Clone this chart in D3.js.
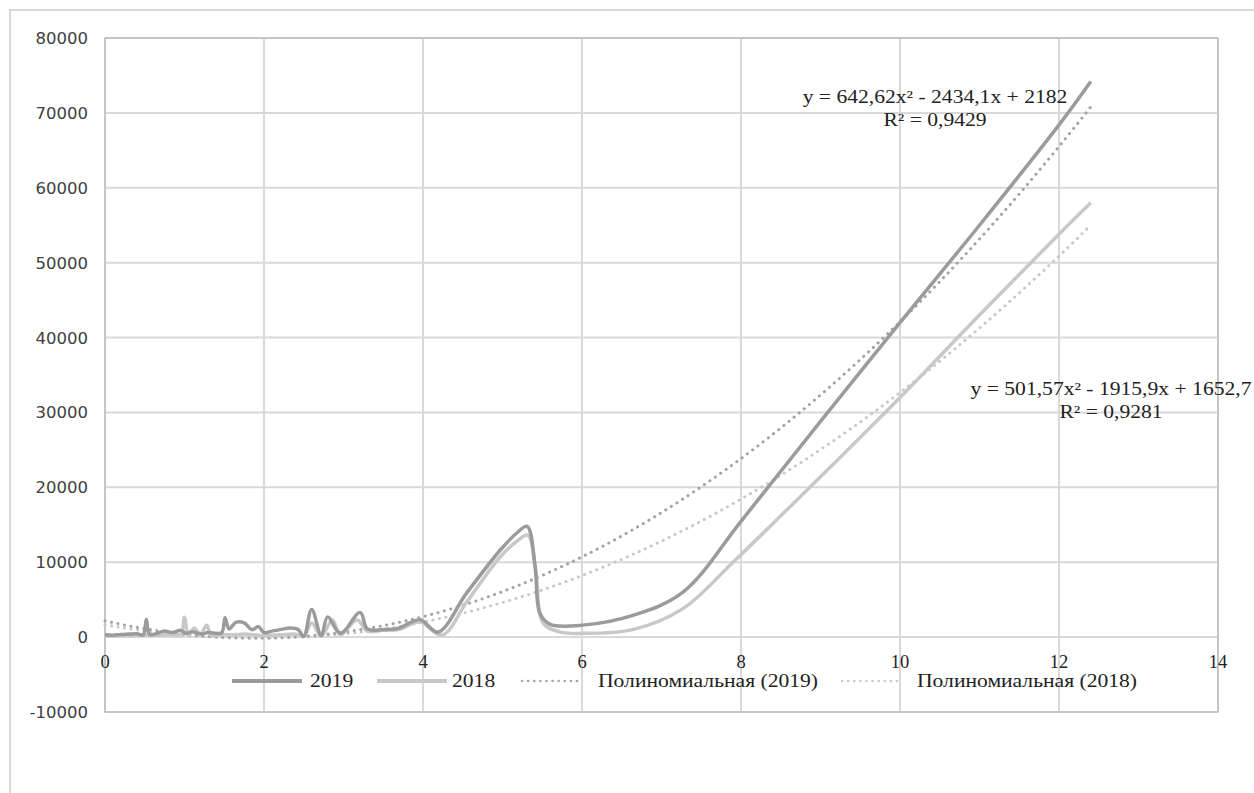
<!DOCTYPE html>
<html><head><meta charset="utf-8">
<script src="https://cdn.jsdelivr.net/npm/d3@7/dist/d3.min.js"></script>
<style>html,body{margin:0;padding:0;background:#fff;}svg{display:block;}</style>
</head><body>
<svg id="c" width="1254" height="793"></svg>
<script>
// ---- data ----
const x2019 = [0,0.1,0.2,0.3,0.4,0.48,0.52,0.56,0.65,0.75,0.85,0.95,1.02,1.1,1.2,1.3,1.4,1.47,1.51,1.56,1.65,1.75,1.85,1.93,2.0,2.1,2.2,2.33,2.43,2.5,2.6,2.72,2.8,2.96,3.21,3.3,3.5,3.7,3.85,3.97,4.19,4.55,4.97,5.18,5.31,5.41,5.47,5.6,6.01,6.64,7.27,8.01,9,10,11,12,12.4];
const v2019 = [300,250,350,400,450,300,2400,350,500,800,600,900,500,700,400,600,500,600,2600,1100,2000,1900,1000,1400,600,800,1000,1200,1000,100,3700,200,2700,500,3300,1100,1000,1200,2000,2300,670,5900,11600,13900,14800,9500,3200,1700,1600,2900,6000,15600,28800,42000,55000,68400,74200];
const x2018 = [0,0.1,0.2,0.3,0.4,0.5,0.6,0.7,0.8,0.9,0.96,1.0,1.05,1.12,1.2,1.28,1.33,1.4,1.5,1.6,1.75,1.9,2.0,2.2,2.4,2.5,2.6,2.72,2.86,2.96,3.17,3.3,3.5,3.7,3.85,3.97,4.24,4.55,4.97,5.18,5.32,5.42,5.51,5.72,6.01,6.64,7.27,7.9,8.53,9,10,11,12,12.4];
const v2018 = [200,150,250,200,300,250,300,250,350,300,400,2650,300,1200,400,1600,300,250,350,300,400,300,200,300,400,100,1900,150,2300,300,2300,800,900,1000,1700,2000,270,4700,10700,12800,13600,8500,1900,700,500,1000,3800,10000,16500,21400,32000,43000,53800,58000];
const seriesNames = ["2019","2018"];
const trendNames = ["Полиномиальная (2019)","Полиномиальная (2018)"];
const trendCoef2019 = [2182, -2434.1, 642.62];
const trendCoef2018 = [1652.7, -1915.9, 501.57];
const eqLabels = [["y = 642,62x² - 2434,1x + 2182","R² = 0,9429"],["y = 501,57x² - 1915,9x + 1652,7","R² = 0,9281"]];
const xTicks = [0,2,4,6,8,10,12,14];
const yTicks = [-10000,0,10000,20000,30000,40000,50000,60000,70000,80000];

// ---- drawing ----
const svg = d3.select("#c");
const L=105,R=1218,T=38,B=712;
const x = d3.scaleLinear().domain([0,14]).range([L,R]);
const y = d3.scaleLinear().domain([-10000,80000]).range([B,T]);
const c2019="#9b9b9b", c2018="#c8c8c8";
const serif="'Liberation Serif','Times New Roman',serif";
const SX=1.2; // horizontal stretch of legend / equation text

svg.append("rect").attr("x",10).attr("y",10).attr("width",1260).attr("height",800)
  .attr("fill","none").attr("stroke","#d9d9d9").attr("stroke-width",2);

// grid
svg.append("g").selectAll("line").data(yTicks).join("line")
  .attr("x1",L).attr("x2",R).attr("y1",d=>y(d)).attr("y2",d=>y(d))
  .attr("stroke","#d9d9d9").attr("stroke-width",2);
svg.append("g").selectAll("line").data(xTicks).join("line")
  .attr("y1",T).attr("y2",B).attr("x1",d=>x(d)).attr("x2",d=>x(d))
  .attr("stroke","#d9d9d9").attr("stroke-width",2);
svg.append("rect").attr("x",L).attr("y",T).attr("width",R-L).attr("height",B-T)
  .attr("fill","none").attr("stroke","#bfbfbf").attr("stroke-width",1.5);

// y labels
svg.append("g").selectAll("text").data(yTicks).join("text")
  .attr("x",88).attr("y",d=>y(d)+6).attr("text-anchor","end")
  .attr("font-family","'DejaVu Sans',sans-serif").attr("font-size",16.5).attr("fill","#404040")
  .text(d=>d);
// x labels
svg.append("g").selectAll("text").data(xTicks).join("text")
  .attr("x",d=>x(d)).attr("y",668).attr("text-anchor","middle")
  .attr("font-family",serif).attr("font-size",18.5).attr("fill","#222")
  .text(d=>d);

// trend lines
function trendPts(coef){
  const pts=[]; for(let i=0;i<=124;i++){const t=i/10; pts.push([t, coef[0]+coef[1]*t+coef[2]*t*t]);} return pts;
}
const tl = d3.line().x(d=>x(d[0])).y(d=>y(d[1]));
[[trendCoef2018,c2018],[trendCoef2019,"#a3a3a3"]].forEach(([cf,col])=>{
  svg.append("path").attr("d",tl(trendPts(cf))).attr("fill","none").attr("stroke",col)
    .attr("stroke-width",3).attr("stroke-dasharray","0.1 6.5").attr("stroke-linecap","round");
});

// series
const sl = d3.line().x(d=>x(d[0])).y(d=>y(d[1])).curve(d3.curveCatmullRom.alpha(0.5));
svg.append("path").attr("d",sl(d3.zip(x2018,v2018))).attr("fill","none").attr("stroke",c2018).attr("stroke-width",3.5);
svg.append("path").attr("d",sl(d3.zip(x2019,v2019))).attr("fill","none").attr("stroke",c2019).attr("stroke-width",3.5);

// equations
const eqPos=[[935,103],[1111,395]];
eqLabels.forEach((lab,i)=>{
  lab.forEach((t,j)=>{
    svg.append("text").attr("transform",`translate(${eqPos[i][0]},${eqPos[i][1]+j*22.5}) scale(${SX},1)`)
      .attr("text-anchor","middle")
      .attr("font-family",serif).attr("font-size",18).attr("fill","#222").text(t);
  });
});

// legend
const leg=[
  {x1:232,x2:302,tx:310,col:c2019,dash:null,txt:seriesNames[0]},
  {x1:377,x2:447,tx:452,col:c2018,dash:null,txt:seriesNames[1]},
  {x1:522,x2:582,tx:598,col:"#a3a3a3",dash:"0.1 6",txt:trendNames[0]},
  {x1:842,x2:900,tx:917,col:c2018,dash:"0.1 6",txt:trendNames[1]}];
const ly=681;
leg.forEach(l=>{
  const ln=svg.append("line").attr("x1",l.x1).attr("x2",l.x2).attr("y1",ly).attr("y2",ly)
    .attr("stroke",l.col).attr("stroke-width",l.dash?2.5:4);
  if(l.dash) ln.attr("stroke-dasharray",l.dash).attr("stroke-linecap","round");
  svg.append("text").attr("transform",`translate(${l.tx},${ly+6}) scale(${SX},1)`)
    .attr("font-family",serif).attr("font-size",18)
    .attr("fill","#222").text(l.txt);
});
</script>
</body></html>
